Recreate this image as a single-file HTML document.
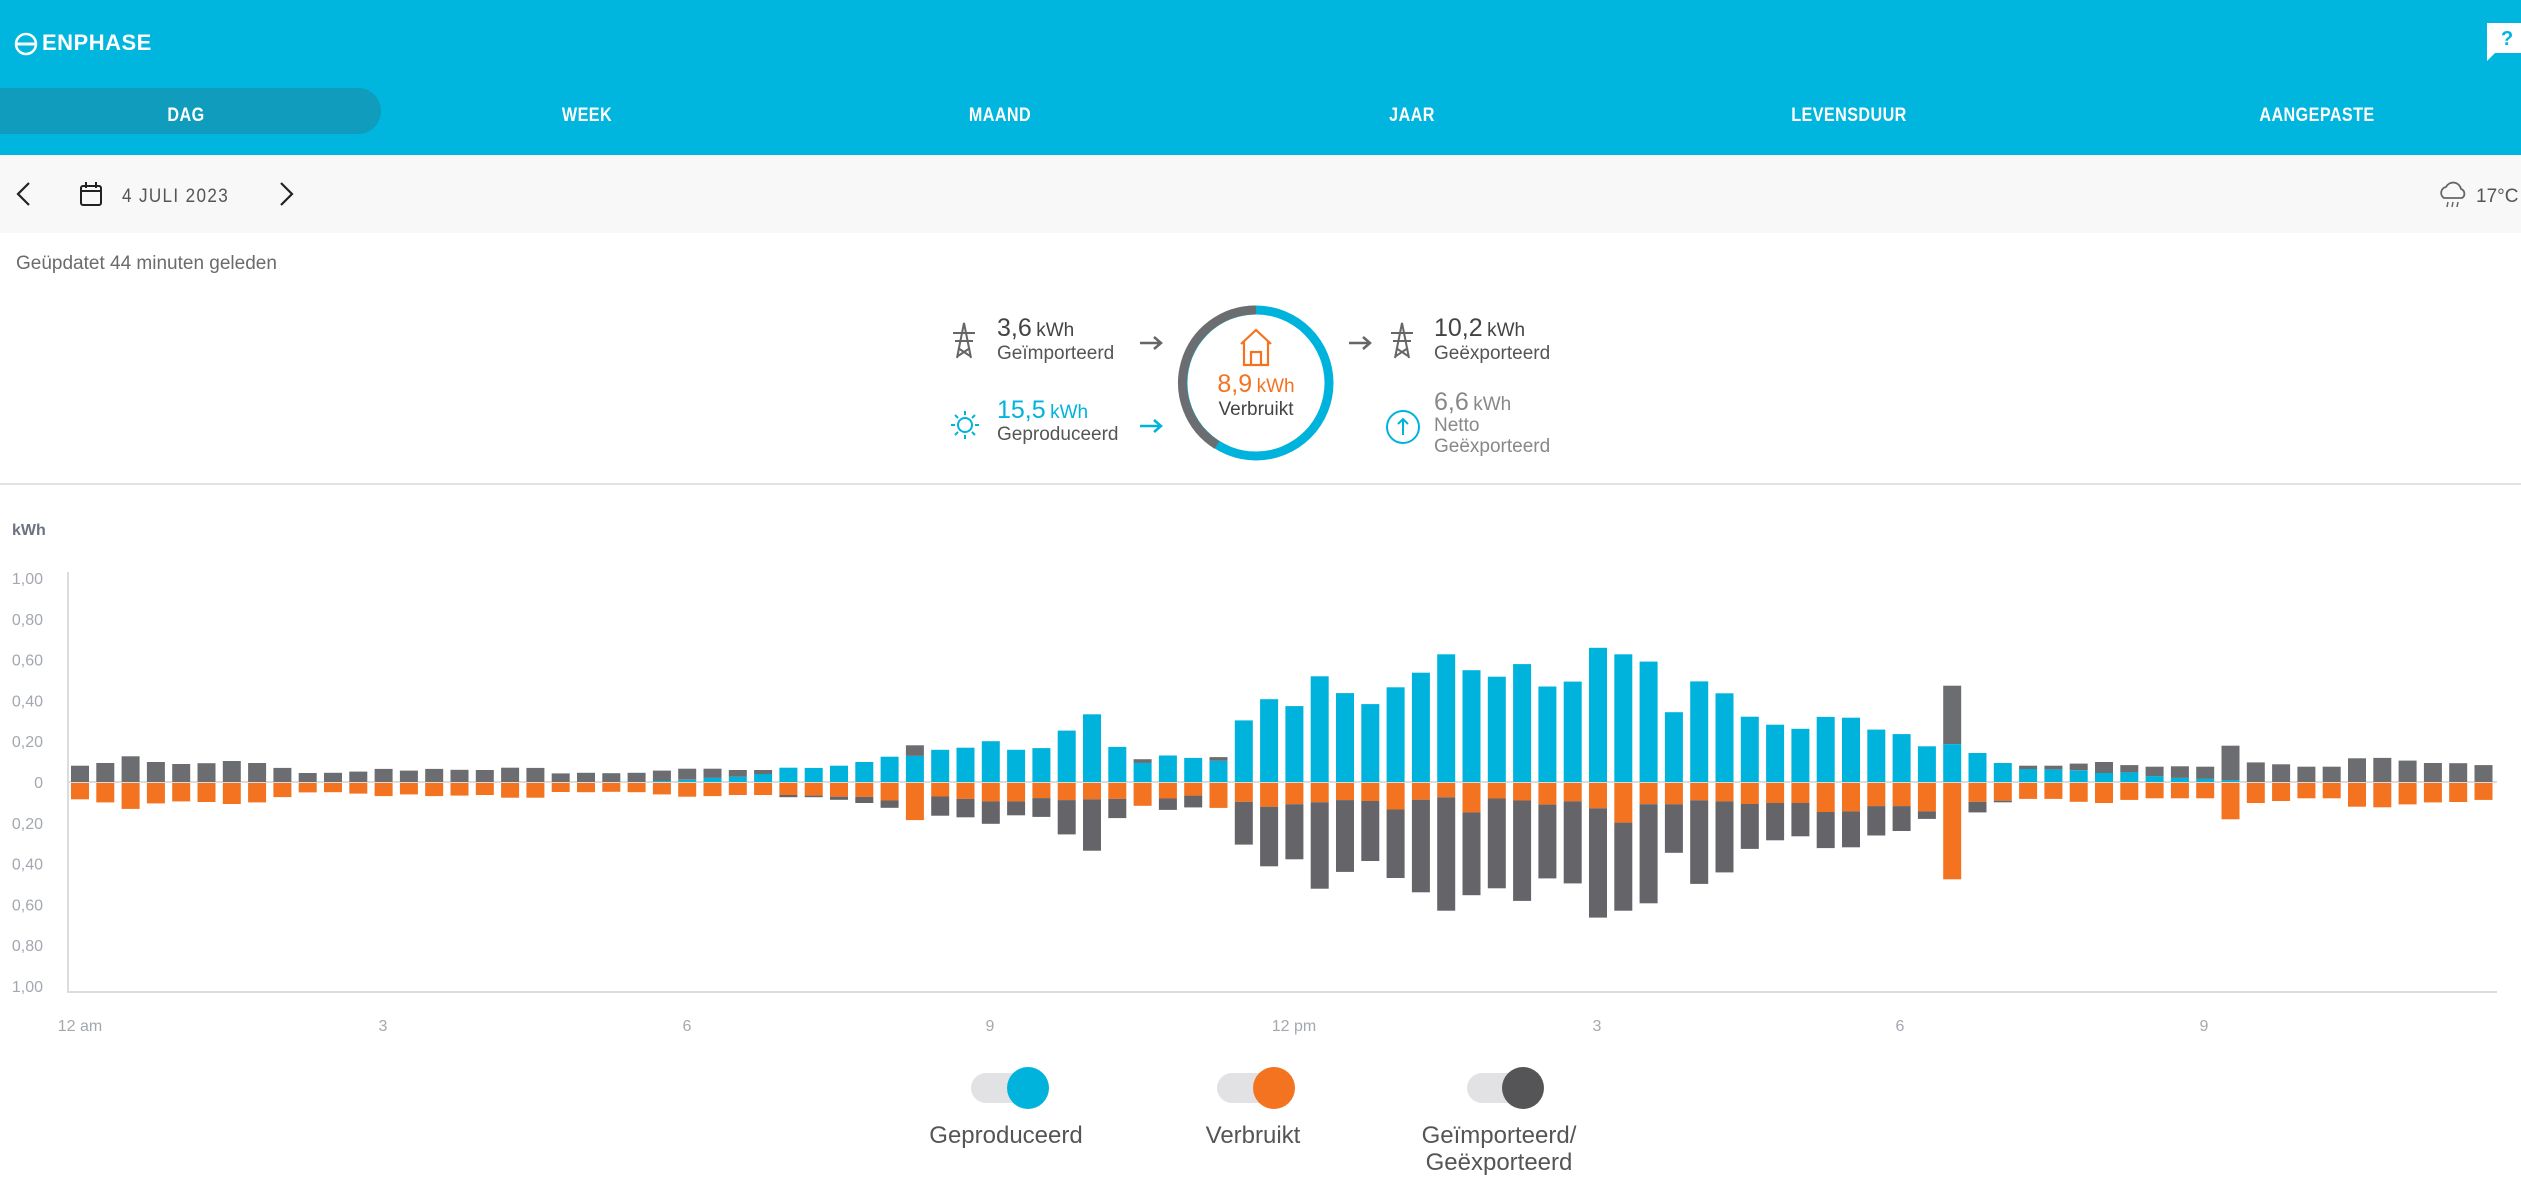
<!DOCTYPE html>
<html><head><meta charset="utf-8">
<style>
*{margin:0;padding:0;box-sizing:border-box}
body{width:2521px;height:1190px;background:#fff;font-family:"Liberation Sans",sans-serif;position:relative;overflow:hidden}
.a{position:absolute;white-space:nowrap}
.hdr{position:absolute;left:0;top:0;width:2521px;height:155px;background:#00b5de}
.tab{position:absolute;top:105px;color:#fff;font-weight:bold;font-size:19px;transform:translateX(-50%) scaleX(0.85);letter-spacing:0.5px}
</style></head><body>
<div class="hdr"></div>
<svg class="a" style="left:14px;top:31px" width="24" height="26" viewBox="0 0 24 26"><circle cx="12" cy="13" r="10" fill="none" stroke="#fff" stroke-width="2.5"/><rect x="2" y="11.5" width="20" height="3" fill="#fff"/></svg>
<div class="a" style="left:42px;top:30px;color:#fff;font-weight:bold;font-size:22px;letter-spacing:0.5px">ENPHASE</div>
<svg class="a" style="left:2487px;top:23px" width="34" height="38" viewBox="0 0 34 38"><path d="M0 0H34V30H8L0 38Z" fill="#fff"/><text x="14" y="22" font-family="Liberation Sans" font-weight="bold" font-size="20" fill="#00b5de">?</text></svg>
<div class="a" style="left:0;top:88px;width:381px;height:46px;background:#109cbd;border-radius:0 23px 23px 0"></div>
<div class="tab" style="left:186px">DAG</div>
<div class="tab" style="left:587px">WEEK</div>
<div class="tab" style="left:1000px">MAAND</div>
<div class="tab" style="left:1412px">JAAR</div>
<div class="tab" style="left:1849px">LEVENSDUUR</div>
<div class="tab" style="left:2317px">AANGEPASTE</div>

<div class="a" style="left:0;top:155px;width:2521px;height:78px;background:#f8f8f8"></div>
<svg class="a" style="left:14px;top:180px" width="20" height="28"><path d="M15 3L4 14L15 25" fill="none" stroke="#222" stroke-width="2.2"/></svg>
<svg class="a" style="left:78px;top:180px" width="26" height="28"><rect x="3" y="6" width="20" height="19" rx="2" fill="none" stroke="#222" stroke-width="2"/><line x1="3" y1="11" x2="23" y2="11" stroke="#222" stroke-width="2"/><line x1="8" y1="2" x2="8" y2="8" stroke="#222" stroke-width="2"/><line x1="18" y1="2" x2="18" y2="8" stroke="#222" stroke-width="2"/></svg>
<div class="a" style="left:122px;top:186px;font-size:19px;color:#555;letter-spacing:1.5px;transform:scaleX(0.9);transform-origin:left">4 JULI 2023</div>
<svg class="a" style="left:276px;top:180px" width="20" height="28"><path d="M5 3L16 14L5 25" fill="none" stroke="#222" stroke-width="2.2"/></svg>
<svg class="a" style="left:2436px;top:178px" width="34" height="34"><path d="M8 20a6 6 0 0 1 2-11a8 8 0 0 1 15 2a5 5 0 0 1 1 9Z" fill="none" stroke="#666" stroke-width="1.8"/><path d="M12 24l-1 5M17 24l-1 5M22 24l-1 5" stroke="#666" stroke-width="1.5"/></svg>
<div class="a" style="left:2476px;top:186px;font-size:19px;color:#555">17°C</div>

<div class="a" style="left:16px;top:253px;font-size:19px;color:#6b6b6b">Geüpdatet 44 minuten geleden</div>

<!-- summary -->
<svg class="a" style="left:940px;top:295px" width="640" height="180" viewBox="940 295 640 180">
 <circle cx="1256" cy="383" r="73" fill="none" stroke="#00b3dc" stroke-width="9"/>
 <path d="M1256 310 A73 73 0 0 0 1217 445" fill="none" stroke="#6b6d70" stroke-width="9"/>
 <path d="M1241 344L1256 330L1271 344M1244 341V365H1268V341M1251 365V352H1261V365" fill="none" stroke="#f37321" stroke-width="2.2"/>
 <g stroke="#666" stroke-width="2" fill="none"><path d="M957 358L964 323L971 358M953 333H975M955 341H973M958 348L970 356M970 348L958 356"/></g>
 <g stroke="#666" stroke-width="2" fill="none"><path d="M1395 358L1402 323L1409 358M1391 333H1413M1393 341H1411M1396 348L1408 356M1408 348L1396 356"/></g>
 <g stroke="#00b3dc" stroke-width="2" fill="none"><circle cx="965" cy="425" r="7"/><path d="M965 411v4M965 435v4M951 425h4M975 425h4M955 415l3 3M972 432l3 3M975 415l-3 3M955 435l3-3"/></g>
 <path d="M1140 343H1160M1154 337L1161 343L1154 349" fill="none" stroke="#666" stroke-width="2.5"/>
 <path d="M1349 343H1369M1363 337L1370 343L1363 349" fill="none" stroke="#666" stroke-width="2.5"/>
 <path d="M1140 426H1160M1154 420L1161 426L1154 432" fill="none" stroke="#00b3dc" stroke-width="2.5"/>
 <circle cx="1403" cy="427" r="16" fill="none" stroke="#00b3dc" stroke-width="2"/>
 <path d="M1403 435V419M1398 424L1403 419L1408 424" fill="none" stroke="#00b3dc" stroke-width="2"/>
</svg>
<div class="a" style="left:997px;top:314px;color:#444"><span style="font-size:25px">3,6</span> <span style="font-size:19px">kWh</span></div>
<div class="a" style="left:997px;top:343px;color:#555;font-size:19px">Geïmporteerd</div>
<div class="a" style="left:997px;top:396px;color:#00b3dc"><span style="font-size:25px">15,5</span> <span style="font-size:19px">kWh</span></div>
<div class="a" style="left:997px;top:424px;color:#555;font-size:19px">Geproduceerd</div>
<div class="a" style="left:1434px;top:314px;color:#444"><span style="font-size:25px">10,2</span> <span style="font-size:19px">kWh</span></div>
<div class="a" style="left:1434px;top:343px;color:#555;font-size:19px">Geëxporteerd</div>
<div class="a" style="left:1434px;top:388px;color:#888"><span style="font-size:25px">6,6</span> <span style="font-size:19px">kWh</span></div>
<div class="a" style="left:1434px;top:415px;color:#888;font-size:19px">Netto</div>
<div class="a" style="left:1434px;top:436px;color:#888;font-size:19px">Geëxporteerd</div>
<div class="a" style="left:1156px;width:200px;text-align:center;top:370px;color:#f37321"><span style="font-size:25px">8,9</span> <span style="font-size:19px">kWh</span></div>
<div class="a" style="left:1156px;width:200px;text-align:center;top:399px;color:#444;font-size:19px">Verbruikt</div>

<div class="a" style="left:0;top:483px;width:2521px;height:2px;background:#e2e2e2"></div>

<!-- chart -->
<svg id="ch" class="a" style="left:0;top:500px" width="2521" height="560" viewBox="0 500 2521 560"></svg>

<!-- legend -->
<div class="a" style="left:971px;top:1073px;width:60px;height:30px;border-radius:15px;background:#e2e2e4"></div>
<div class="a" style="left:1007px;top:1067px;width:42px;height:42px;border-radius:50%;background:#00b3dc"></div>
<div class="a" style="left:1217px;top:1073px;width:60px;height:30px;border-radius:15px;background:#e2e2e4"></div>
<div class="a" style="left:1253px;top:1067px;width:42px;height:42px;border-radius:50%;background:#f37321"></div>
<div class="a" style="left:1467px;top:1073px;width:60px;height:30px;border-radius:15px;background:#e2e2e4"></div>
<div class="a" style="left:1502px;top:1067px;width:42px;height:42px;border-radius:50%;background:#555557"></div>
<div class="a" style="left:906px;width:200px;text-align:center;top:1122px;font-size:24px;color:#555">Geproduceerd</div>
<div class="a" style="left:1153px;width:200px;text-align:center;top:1122px;font-size:24px;color:#555">Verbruikt</div>
<div class="a" style="left:1399px;width:200px;text-align:center;top:1122px;font-size:24px;color:#555;line-height:27px">Geïmporteerd/<br>Geëxporteerd</div>

<script>
var D=[
[0,.080,.080,0],[0,.093,.095,0],[0,.126,.127,0],[0,.098,.100,0],[0,.088,.090,0],[0,.092,.093,0],[0,.103,.103,0],[0,.093,.095,0],
[0,.069,.069,0],[0,.044,.046,0],[0,.045,.045,0],[0,.051,.052,0],[0,.064,.064,0],[0,.056,.056,0],[0,.064,.064,0],[0,.060,.062,0],
[0,.059,.059,0],[0,.070,.072,0],[0,.069,.072,0],[0,.042,.044,0],[0,.045,.045,0],[0,.043,.043,0],[0,.045,.045,0],
[.005,.051,.056,0],[.011,.054,.067,0],[.020,.045,.064,0],[.026,.033,.059,0],[.039,.020,.059,0],
[.070,0,.059,.011],[.069,0,.062,.008],[.080,0,.067,.015],
[.098,0,.068,.030],[.124,0,.086,.036],[.128,.052,.182,0],[.158,0,.066,.094],[.168,0,.078,.090],[.200,0,.090,.110],[.158,0,.090,.068],[.166,0,.074,.092],
[.252,0,.084,.168],[.332,0,.080,.252],[.172,0,.078,.094],[.094,.018,.112,0],[.130,0,.076,.056],[.118,0,.062,.058],[.104,.018,.122,0],[.302,0,.092,.210],
[.406,0,.116,.292],[.372,0,.104,.270],[.518,0,.094,.424],[.436,0,.084,.352],[.382,0,.088,.294],[.464,0,.130,.336],[.536,0,.082,.454],[.626,0,.070,.556],
[.548,0,.144,.406],[.516,0,.076,.440],[.578,0,.086,.492],[.468,0,.106,.362],[.492,0,.090,.402],[.658,0,.124,.536],[.626,0,.194,.432],[.590,0,.104,.486],
[.342,0,.104,.238],[.493,0,.085,.410],[.435,0,.090,.348],[.320,0,.103,.220],[.281,0,.098,.183],[.261,0,.098,.163],[.319,0,.142,.177],[.315,0,.139,.176],
[.257,0,.113,.144],[.235,0,.113,.122],[.175,0,.139,.037],[.186,.286,.472,0],[.142,0,.092,.052],[.093,0,.087,.008],[.064,.016,.078,0],[.062,.018,.078,0],
[.057,.033,.092,0],[.044,.054,.098,0],[.047,.036,.083,0],[.029,.046,.075,0],[.020,.057,.075,0],[.015,.060,.075,0],[.008,.170,.178,0],
[0,.096,.098,0],[0,.087,.088,0],[0,.075,.075,0],[0,.075,.075,0],[0,.116,.116,0],[0,.118,.119,0],[0,.105,.105,0],[0,.093,.095,0],[0,.092,.093,0],[0,.083,.083,0]];
var s='',Z=782,K=204,W=18;
s+='<text x="12" y="535" font-size="16" font-weight="bold" fill="#6b7280" font-family="Liberation Sans">kWh</text>';
var lb=['1,00','0,80','0,60','0,40','0,20','0','0,20','0,40','0,60','0,80','1,00'];
for(var j=0;j<11;j++){var y=578+j*40.8;s+='<text x="43" y="'+(y+6)+'" text-anchor="end" font-size="16" fill="#a3a8b0" font-family="Liberation Sans">'+lb[j]+'</text>';}
s+='<line x1="68" y1="572" x2="68" y2="992" stroke="#dcdcdc" stroke-width="2"/>';
s+='<line x1="67" y1="992" x2="2497" y2="992" stroke="#dcdcdc" stroke-width="2"/>';
s+='<line x1="68" y1="782" x2="2497" y2="782" stroke="#dcdcdc" stroke-width="2"/>';
function r(x,y,h,c){if(h<=0)return '';return '<rect x="'+x+'" y="'+y.toFixed(1)+'" width="'+W+'" height="'+h.toFixed(1)+'" fill="'+c+'"/>';}
for(var i=0;i<96;i++){var d=D[i],x=(80+25.3*i-W/2).toFixed(1);
 var p=d[0]*K,im=d[1]*K,c=d[2]*K,e=d[3]*K;
 s+=r(x,Z-p,p,'#00b3dc');s+=r(x,Z-p-im,im,'#6b6d70');
 s+=r(x,Z+1,c,'#f37321');s+=r(x,Z+1+c,e,'#646469');}
var xl=[['12 am',80],['3',383],['6',687],['9',990],['12 pm',1294],['3',1597],['6',1900],['9',2204]];
xl.forEach(function(a){s+='<text x="'+a[1]+'" y="1031" text-anchor="middle" font-size="16" fill="#a3a8b0" font-family="Liberation Sans">'+a[0]+'</text>';});
document.getElementById('ch').innerHTML=s;
</script>
</body></html>
